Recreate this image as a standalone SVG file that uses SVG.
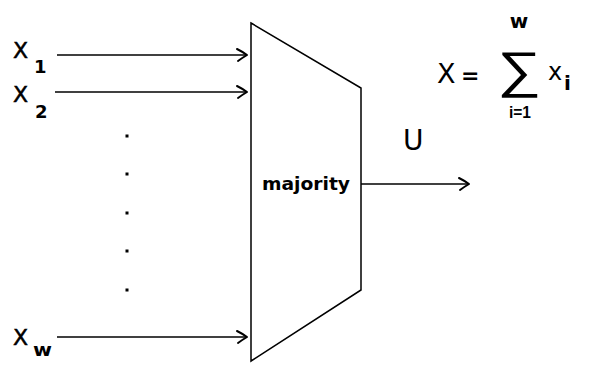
<svg xmlns="http://www.w3.org/2000/svg" width="597" height="365" viewBox="0 0 597 365">
<style>
.ln{stroke:#000;stroke-width:1.5;fill:none}
.ah{stroke:#000;stroke-width:2;fill:none;stroke-linecap:round;stroke-linejoin:round}
.t{font-family:"DejaVu Sans",Verdana,sans-serif;fill:#000}
.tx{font-family:"DejaVu Sans",Verdana,sans-serif;fill:#000;stroke:#000;stroke-width:0.5}
.b{font-family:"DejaVu Sans",Verdana,sans-serif;font-weight:bold;fill:#000}
.lb{font-family:"Liberation Sans",Arial,sans-serif;font-weight:bold;fill:#000}
</style>
<defs>
<marker id="arr" markerWidth="14" markerHeight="16" refX="12" refY="8" orient="auto" markerUnits="userSpaceOnUse">
<path class="ah" d="M2,2 Q8,5 12,8 Q7,11 3,14"/>
</marker>
</defs>
<rect width="597" height="365" fill="#fff"/>
<g id="connectors">
<line class="ln" x1="57" y1="55" x2="247" y2="55" marker-end="url(#arr)"/>
<line class="ln" x1="55" y1="92" x2="247" y2="92" marker-end="url(#arr)"/>
<line class="ln" x1="57" y1="337" x2="247" y2="337" marker-end="url(#arr)"/>
<line class="ln" x1="361" y1="184" x2="469" y2="184" marker-end="url(#arr)"/>
</g>
<g id="majority">
<polygon class="ln" points="251,23 361,88 361,290 251,361"/>
<text class="b" x="262" y="190" font-size="17" textLength="88" lengthAdjust="spacingAndGlyphs">majority</text>
</g>
<g id="x1"><text class="tx" x="13" y="58" font-size="22">X</text><text class="b" x="34" y="73" font-size="18">1</text></g>
<g id="x2"><text class="tx" x="13" y="102" font-size="22">X</text><text class="b" x="35" y="118" font-size="18">2</text></g>
<g id="xw"><text class="tx" x="13" y="345" font-size="22">X</text><text class="b" x="33" y="356" font-size="17" textLength="19" lengthAdjust="spacingAndGlyphs">w</text></g>
<g id="dots" fill="#000">
<rect x="125.5" y="134.5" width="3" height="3"/>
<rect x="125.5" y="172.5" width="3" height="3"/>
<rect x="125.5" y="211.5" width="3" height="3"/>
<rect x="125.5" y="249.5" width="3" height="3"/>
<rect x="125.5" y="288.5" width="3" height="3"/>
</g>
<g id="u"><text class="t" x="403" y="150" font-size="28">U</text></g>
<g id="formula">
<text class="t" x="437" y="83" font-size="27">X</text>
<text class="b" x="461" y="83" font-size="22">=</text>
<text x="497" y="87" font-size="50" font-family="Liberation Sans,Arial,sans-serif" textLength="44" lengthAdjust="spacingAndGlyphs">∑</text>
<text class="b" x="519" y="28" font-size="20" text-anchor="middle">w</text>
<text class="lb" x="509" y="118" font-size="16" textLength="22" lengthAdjust="spacingAndGlyphs">i=1</text>
<text class="t" x="548" y="80" font-size="24">x</text>
<text class="b" x="564" y="90" font-size="20">i</text>
</g>
</svg>
